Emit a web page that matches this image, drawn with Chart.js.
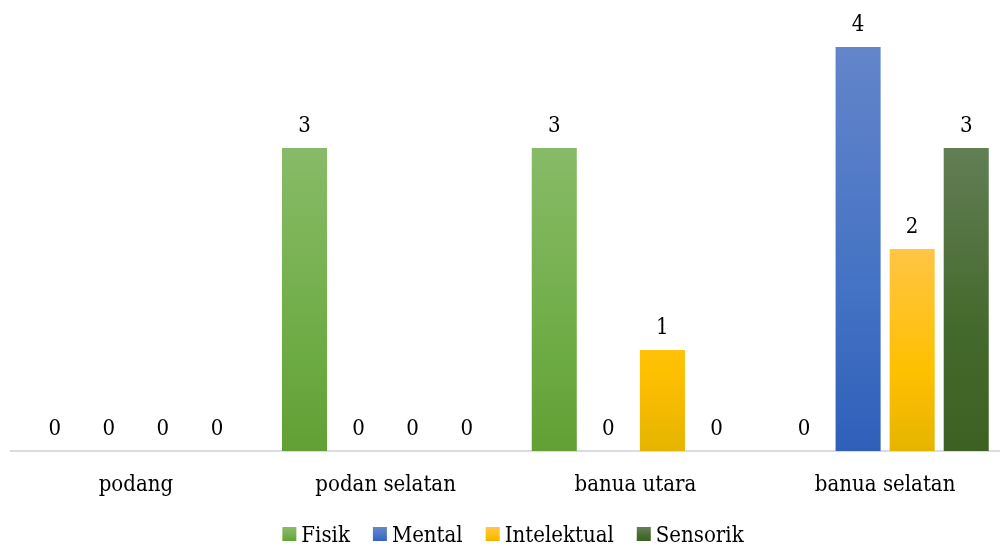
<!DOCTYPE html>
<html>
<head>
<meta charset="utf-8">
<script src="https://cdn.jsdelivr.net/npm/chart.js@4"></script>
<style>
html,body{margin:0;padding:0;background:#fff;overflow:hidden;width:1000px;height:546px;}
#wrap{position:absolute;left:0;top:0;width:1010px;height:546px;}
</style>
</head>
<body>
<div id="wrap"><canvas id="c" width="1010" height="546"></canvas></div>
<script>
const categories = ["podang", "podan selatan", "banua utara", "banua selatan"];
const fisik = [0, 3, 3, 0];
const mental = [0, 0, 0, 4];
const intelektual = [0, 0, 1, 2];
const sensorik = [0, 0, 0, 3];
const seriesNames = ["Fisik", "Mental", "Intelektual", "Sensorik"];
// gradient stops per series: top, middle, bottom
const gradients = [
  ["#88BB68", "#70AD47", "#62A035"],
  ["#6385CA", "#4472C4", "#2F5FB9"],
  ["#FFC545", "#FFC000", "#E6B400"],
  ["#627E55", "#44692C", "#3C6121"]
];
const FONT = "'DejaVu Serif Condensed', 'DejaVu Serif', serif";

function makeGrad(ctx, top, bot, g) {
  const gr = ctx.createLinearGradient(0, top, 0, bot);
  gr.addColorStop(0, g[0]);
  gr.addColorStop(0.6, g[1]);
  gr.addColorStop(1, g[2]);
  return gr;
}

const gradPlugin = {
  id: 'gradPlugin',
  beforeDatasetsDraw(chart) {
    const ctx = chart.ctx;
    chart.data.datasets.forEach((ds, i) => {
      const meta = chart.getDatasetMeta(i);
      meta.data.forEach(el => {
        if (Math.abs(el.base - el.y) < 1) return;
        el.options.backgroundColor = makeGrad(ctx, el.y, el.base, gradients[i]);
      });
    });
  }
};

const labelPlugin = {
  id: 'labelPlugin',
  afterDatasetsDraw(chart) {
    const ctx = chart.ctx;
    ctx.save();
    ctx.font = "22px " + FONT;
    ctx.fillStyle = "#000";
    ctx.textAlign = "center";
    ctx.textBaseline = "middle";
    chart.data.datasets.forEach((ds, i) => {
      const meta = chart.getDatasetMeta(i);
      meta.data.forEach((el, j) => {
        ctx.fillText(String(ds.data[j]), el.x, el.y - 22);
      });
    });
    ctx.restore();
  }
};

// legend drawn at the bottom, series names from the dataset labels
const legendPlugin = {
  id: 'legendPlugin',
  afterDraw(chart) {
    const ctx = chart.ctx;
    ctx.save();
    ctx.font = "22px " + FONT;
    ctx.textBaseline = "middle";
    ctx.textAlign = "left";
    const box = 14, gapText = 5, gapItem = 23, cy = 535;
    const names = chart.data.datasets.map(d => d.label);
    const widths = names.map(n => ctx.measureText(n).width);
    let total = 0;
    widths.forEach((w, i) => { total += box + gapText + w + (i < widths.length - 1 ? gapItem : 0); });
    let x = 513 - total / 2;
    names.forEach((n, i) => {
      ctx.fillStyle = makeGrad(ctx, cy - 7, cy + 7, gradients[i]);
      ctx.fillRect(x, cy - 8, box, box);
      ctx.fillStyle = "#000";
      ctx.fillText(n, x + box + gapText, cy + 1);
      x += box + gapText + widths[i] + gapItem;
    });
    ctx.restore();
  }
};

const dataArrays = [fisik, mental, intelektual, sensorik];
new Chart(document.getElementById('c'), {
  type: 'bar',
  data: {
    labels: categories,
    datasets: seriesNames.map((n, i) => ({
      label: n,
      data: dataArrays[i],
      backgroundColor: gradients[i][1],
      borderWidth: 0,
      categoryPercentage: 0.866,
      barPercentage: 0.833
    }))
  },
  options: {
    responsive: false,
    animation: false,
    layout: { padding: { left: 11, right: 0, top: 47, bottom: 0 } },
    scales: {
      x: {
        grid: { display: false, drawTicks: false },
        border: { display: true, color: '#D9DDE3', width: 2 },
        ticks: { color: '#000', font: { family: FONT, size: 22 }, padding: 21 },
        afterFit(scale) { scale.height = 95; }
      },
      y: { display: false, min: 0, max: 4 }
    },
    plugins: {
      legend: { display: false },
      tooltip: { enabled: false }
    }
  },
  plugins: [gradPlugin, labelPlugin, legendPlugin]
});
</script>
</body>
</html>
